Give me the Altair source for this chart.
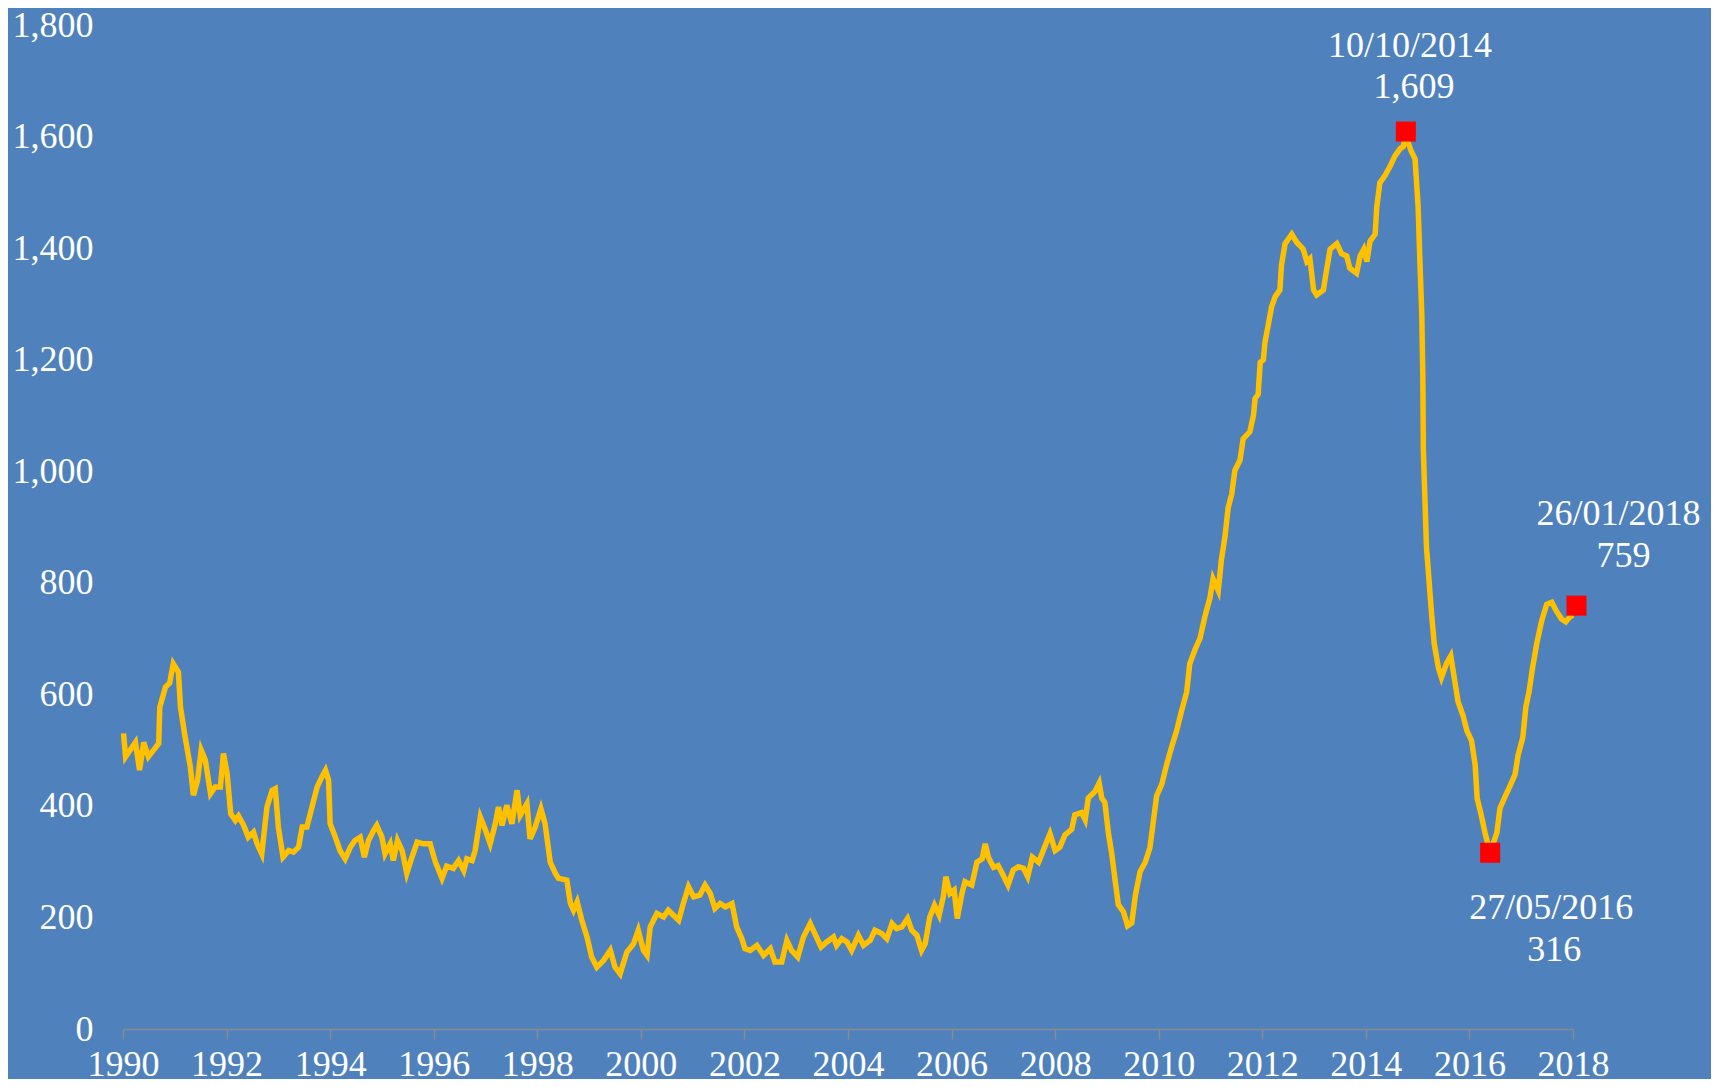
import altair as alt
import pandas as pd

# Weekly series (decimal year, value)
years = [
    1990.01, 1990.05, 1990.24, 1990.32, 1990.40, 1990.49, 1990.59, 1990.69, 1990.71, 1990.82,
    1990.90, 1990.97, 1991.07, 1991.11, 1991.20, 1991.30, 1991.36, 1991.44, 1991.51, 1991.59,
    1991.69, 1991.78, 1991.88, 1991.94, 1992.01, 1992.08, 1992.17, 1992.23, 1992.33, 1992.42,
    1992.52, 1992.59, 1992.68, 1992.78, 1992.88, 1992.94, 1993.00, 1993.09, 1993.20, 1993.29,
    1993.39, 1993.46, 1993.55, 1993.65, 1993.75, 1993.84, 1993.91, 1993.97, 1994.00, 1994.10,
    1994.19, 1994.29, 1994.39, 1994.48, 1994.58, 1994.66, 1994.74, 1994.84, 1994.90, 1995.00,
    1995.06, 1995.16, 1995.22, 1995.30, 1995.39, 1995.48, 1995.58, 1995.68, 1995.80, 1995.93,
    1996.03, 1996.16, 1996.25, 1996.38, 1996.48, 1996.58, 1996.64, 1996.74, 1996.80, 1996.90,
    1996.99, 1997.09, 1997.19, 1997.25, 1997.32, 1997.41, 1997.51, 1997.61, 1997.67, 1997.80,
    1997.86, 1997.96, 1998.07, 1998.15, 1998.22, 1998.25, 1998.35, 1998.41, 1998.57, 1998.64,
    1998.70, 1998.77, 1998.86, 1998.96, 1999.05, 1999.15, 1999.28, 1999.41, 1999.50, 1999.60,
    1999.73, 1999.86, 1999.95, 2000.05, 2000.12, 2000.18, 2000.31, 2000.44, 2000.53, 2000.63,
    2000.73, 2000.82, 2000.92, 2001.02, 2001.14, 2001.24, 2001.34, 2001.43, 2001.53, 2001.63,
    2001.76, 2001.85, 2001.95, 2002.01, 2002.11, 2002.24, 2002.37, 2002.50, 2002.59, 2002.72,
    2002.82, 2002.91, 2003.03, 2003.14, 2003.27, 2003.36, 2003.48, 2003.59, 2003.72, 2003.78,
    2003.88, 2003.98, 2004.07, 2004.20, 2004.30, 2004.43, 2004.52, 2004.65, 2004.75, 2004.85,
    2004.94, 2005.04, 2005.15, 2005.23, 2005.33, 2005.42, 2005.49, 2005.58, 2005.67, 2005.76,
    2005.84, 2005.89, 2005.97, 2006.05, 2006.11, 2006.20, 2006.26, 2006.39, 2006.49, 2006.59,
    2006.65, 2006.71, 2006.81, 2006.90, 2007.00, 2007.09, 2007.19, 2007.29, 2007.39, 2007.47,
    2007.56, 2007.68, 2007.77, 2007.90, 2008.00, 2008.09, 2008.19, 2008.32, 2008.38, 2008.51,
    2008.58, 2008.64, 2008.77, 2008.85, 2008.90, 2008.96, 2009.03, 2009.09, 2009.16, 2009.22,
    2009.32, 2009.40, 2009.48, 2009.55, 2009.64, 2009.74, 2009.83, 2009.90, 2009.96, 2010.06,
    2010.15, 2010.25, 2010.35, 2010.44, 2010.54, 2010.60, 2010.70, 2010.80, 2010.89, 2010.99,
    2011.05, 2011.15, 2011.21, 2011.28, 2011.34, 2011.41, 2011.47, 2011.57, 2011.63, 2011.76,
    2011.83, 2011.86, 2011.92, 2011.96, 2012.02, 2012.05, 2012.12, 2012.18, 2012.25, 2012.34,
    2012.37, 2012.44, 2012.57, 2012.66, 2012.79, 2012.86, 2012.92, 2012.99, 2013.05, 2013.18,
    2013.24, 2013.31, 2013.44, 2013.53, 2013.63, 2013.69, 2013.82, 2013.89, 2013.96, 2014.02,
    2014.08, 2014.18, 2014.21, 2014.27, 2014.37, 2014.47, 2014.56, 2014.66, 2014.72, 2014.773,
    2014.88, 2014.95, 2014.98, 2015.01, 2015.04, 2015.08, 2015.10, 2015.11, 2015.14, 2015.17,
    2015.22, 2015.27, 2015.32, 2015.40, 2015.46, 2015.56, 2015.64, 2015.72, 2015.78, 2015.88,
    2015.95, 2016.04, 2016.11, 2016.15, 2016.22, 2016.30, 2016.40, 2016.53, 2016.59, 2016.69,
    2016.78, 2016.88, 2016.94, 2017.03, 2017.09, 2017.15, 2017.22, 2017.30, 2017.39, 2017.49,
    2017.59, 2017.68, 2017.78, 2017.86, 2017.94, 2018.00,
]
values = [
    530, 488, 514, 464, 514, 488, 500, 512, 577, 613,
    620, 655, 640, 577, 523, 470, 419, 446, 500, 482,
    422, 434, 434, 494, 458, 386, 374, 382, 365, 344,
    353, 332, 314, 398, 428, 431, 362, 308, 320, 317,
    326, 362, 362, 398, 434, 452, 464, 446, 368, 344,
    320, 305, 326, 338, 344, 308, 338, 356, 365, 344,
    314, 332, 302, 338, 320, 279, 308, 335, 332, 332,
    300, 270, 292, 288, 302, 284, 305, 302, 320, 380,
    359, 332, 368, 398, 365, 401, 368, 428, 383, 404,
    341, 362, 395, 368, 320, 299, 279, 270, 267, 225,
    213, 228, 195, 165, 129, 111, 123, 141, 111, 99,
    138, 153, 177, 141, 132, 183, 207, 201, 213, 204,
    195, 225, 255, 237, 240, 258, 243, 216, 225, 219,
    225, 183, 162, 144, 141, 150, 132, 144, 120, 120,
    159, 141, 129, 165, 189, 171, 147, 156, 165, 150,
    162, 156, 141, 168, 150, 159, 177, 171, 162, 189,
    180, 183, 198, 177, 168, 141, 153, 201, 222, 204,
    237, 273, 243, 249, 198, 243, 264, 258, 299, 305,
    332, 308, 290, 293, 275, 258, 285, 291, 288, 273,
    308, 299, 320, 350, 320, 326, 348, 358, 384, 388,
    375, 414, 426, 441, 414, 406, 350, 316, 265, 223,
    210, 185, 190, 240, 282, 299, 325, 375, 418, 439,
    473, 506, 536, 570, 604, 655, 680, 701, 739, 773,
    807, 786, 841, 883, 934, 959, 1001, 1020, 1058, 1071,
    1100, 1130, 1138, 1195, 1200, 1230, 1265, 1295, 1313, 1325,
    1369, 1408, 1425, 1411, 1398, 1376, 1381, 1325, 1316, 1325,
    1360, 1398, 1408, 1390, 1386, 1364, 1355, 1386, 1398, 1376,
    1412, 1425, 1473, 1517, 1530, 1547, 1565, 1578, 1582, 1600,
    1573, 1560, 1517, 1473, 1386, 1282, 1169, 1039, 952, 865,
    804, 743, 691, 648, 630, 656, 669, 622, 587, 561,
    535, 517, 474, 413, 387, 352, 316, 352, 396, 417,
    435, 456, 491, 522, 578, 604, 648, 691, 730, 761,
    765, 749, 735, 730, 739, 742,
]

# Highlighted points
point_years = [2014.773, 2016.40, 2018.068]
point_values = [1609, 316, 759]
point_dates = ["10/10/2014", "27/05/2016", "26/01/2018"]
point_labels = ["1,609", "316", "759"]

x_ticks = list(range(1990, 2019, 2))
y_ticks = list(range(0, 1801, 200))

FONT = "Liberation Serif"
FS = 36
BG = "#4F81BD"

df = pd.DataFrame({"year": years, "value": values})
pts = pd.DataFrame({"year": point_years, "value": point_values,
                    "date": point_dates, "label": point_labels})

x = alt.X("year:Q",
          scale=alt.Scale(domain=[1990, 2018], nice=False, zero=False),
          axis=alt.Axis(values=x_ticks, format="d", title=None, grid=False,
                        domainColor="#8a8a8a", domainWidth=1.5,
                        tickColor="#8a8a8a", tickWidth=1.5, tickSize=10,
                        labelPadding=8, labelFont=FONT, labelFontSize=FS,
                        labelColor="white", labelFlush=False, labelOverlap=False))
y = alt.Y("value:Q",
          scale=alt.Scale(domain=[0, 1800], nice=False),
          axis=alt.Axis(values=y_ticks, format=",d", title=None, grid=False,
                        domain=False, ticks=False, labelPadding=30,
                        labelFont=FONT, labelFontSize=FS, labelColor="white",
                        labelOverlap=False))

line = alt.Chart(df).mark_line(color="#FFC000", strokeWidth=5.5, clip=False).encode(x=x, y=y)
squares = alt.Chart(pts).mark_square(color="#FF0000", size=400, opacity=1, clip=False).encode(x=x, y=y)


def label(field, key, dx, dy):
    return (alt.Chart(pts)
            .transform_filter(alt.datum.date == key)
            .mark_text(font=FONT, fontSize=FS, color="white", align="center",
                       baseline="middle", dx=dx, dy=dy, clip=False)
            .encode(x=x, y=y, text=f"{field}:N"))


texts = [
    label("date", "10/10/2014", 4, -86),
    label("label", "10/10/2014", 8, -45),
    label("date", "27/05/2016", 61, 55),
    label("label", "27/05/2016", 64, 97),
    label("date", "26/01/2018", 42, -92),
    label("label", "26/01/2018", 47, -50),
]

chart = alt.layer(line, squares, *texts).properties(
    width=1450, height=1004,
    autosize=alt.AutoSizeParams(type="none"),
    padding={"left": 115, "top": 17, "right": 138, "bottom": 50},
).configure(background=BG).configure_view(stroke=None)

chart.save("out.html", embed_options={"renderer": "svg", "actions": False})
